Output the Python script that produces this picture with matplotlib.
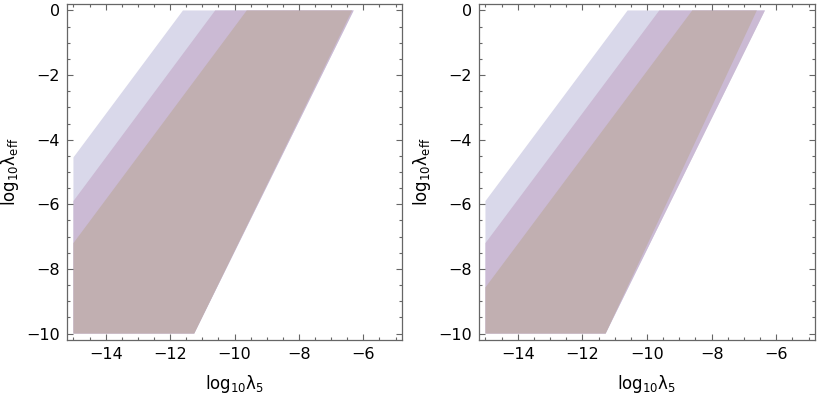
import matplotlib.pyplot as plt
from matplotlib.ticker import MultipleLocator

plt.rcParams['mathtext.fontset'] = 'dejavusans'

# region boundaries: (log10 lambda5, log10 lambda_eff)
# left panel
left_lav_x = [-15, -15, -11.6, -6.3, -11.25]
left_lav_y = [-10, -4.55, 0, 0, -10]
left_pur_x = [-15, -15, -10.6, -6.3, -11.25]
left_pur_y = [-10, -5.9, 0, 0, -10]
left_brn_x = [-15, -15, -9.62, -6.35, -11.25]
left_brn_y = [-10, -7.2, 0, 0, -10]

# right panel
right_lav_x = [-15, -15, -10.6, -6.35, -11.28]
right_lav_y = [-10, -5.9, 0, 0, -10]
right_pur_x = [-15, -15, -9.62, -6.35, -11.28]
right_pur_y = [-10, -7.2, 0, 0, -10]
right_brn_x = [-15, -15, -8.6, -6.6, -11.28]
right_brn_y = [-10, -8.57, 0, 0, -10]

colors = ['#D9D8EA', '#CBBAD4', '#C1AFB1']
frame_col = '#666666'

fig = plt.figure(figsize=(8.17, 3.98), dpi=100)
ax1 = fig.add_axes([67/817, 1-340/398, 335/817, 336/398])
ax2 = fig.add_axes([479/817, 1-340/398, 336/817, 336/398])

panels = [
	(ax1, [(left_lav_x, left_lav_y), (left_pur_x, left_pur_y), (left_brn_x, left_brn_y)]),
	(ax2, [(right_lav_x, right_lav_y), (right_pur_x, right_pur_y), (right_brn_x, right_brn_y)]),
]

for ax, regions in panels:
	for (xs, ys), c in zip(regions, colors):
		ax.fill(xs, ys, color=c, lw=0)
	ax.set_xlim(-15.2, -4.8)
	ax.set_ylim(-10.2, 0.2)
	ax.xaxis.set_minor_locator(MultipleLocator(0.5))
	ax.yaxis.set_minor_locator(MultipleLocator(0.5))
	ax.set_xticks([-14, -12, -10, -8, -6])
	ax.set_xticklabels(['\u221214', '\u221212', '\u221210', '\u22128', '\u22126'])
	ax.set_yticks([0, -2, -4, -6, -8, -10])
	ax.set_yticklabels(['0', '\u22122', '\u22124', '\u22126', '\u22128', '\u221210'])
	ax.tick_params(which='both', direction='in', top=True, right=True,
				   color=frame_col, labelsize=11.5, width=0.8)
	ax.tick_params(which='major', length=4.5, pad=5)
	ax.tick_params(which='minor', length=2.5)
	for s in ax.spines.values():
		s.set_color(frame_col)
		s.set_linewidth(0.9)
	ax.set_xlabel(r'$\mathrm{log_{10}λ_5}$', fontsize=12, labelpad=8)
	ax.set_ylabel(r'$\mathrm{log_{10}λ_{eff}}$', fontsize=12, labelpad=4)

fig.savefig('out.png', dpi=100)
